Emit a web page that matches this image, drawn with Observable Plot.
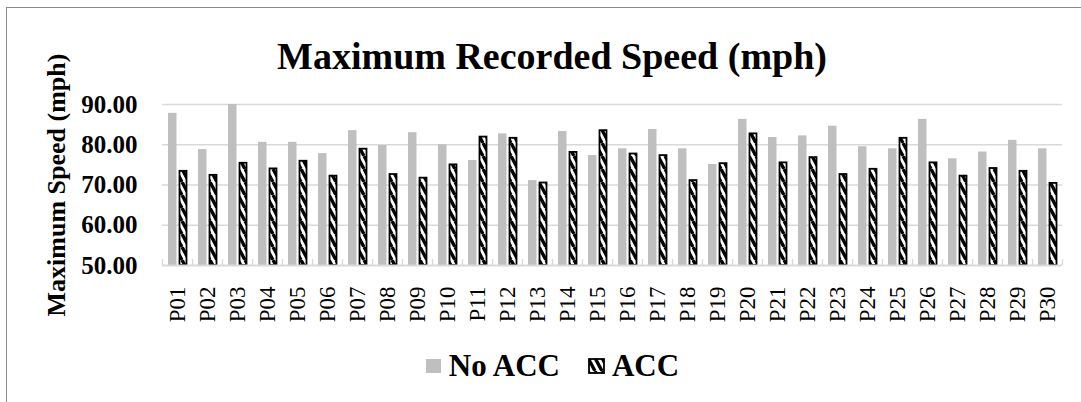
<!DOCTYPE html>
<html>
<head>
<meta charset="utf-8">
<script src="https://cdn.jsdelivr.net/npm/d3@7"></script>
<script src="https://cdn.jsdelivr.net/npm/@observablehq/plot@0.6"></script>
<style>
  html, body { margin: 0; padding: 0; background: #fff; }
  body { width: 1081px; height: 402px; position: relative; overflow: hidden; font-family: "Liberation Serif", "Times New Roman", serif; }
  #frame { position: absolute; left: 6px; top: 7px; width: 1100px; height: 420px; border: 1.5px solid #8a8a8a; box-sizing: border-box; }
  #title { position: absolute; left: 0; top: 37px; width: 1104px; text-align: center; font-weight: bold; font-size: 38px; line-height: 38px; }
  #chart { position: absolute; left: 0; top: 0; }
  #legend { position: absolute; left: 0; top: 350px; width: 1104px; display: flex; justify-content: center; align-items: center; font-weight: bold; font-size: 31px; line-height: 31px; }
  #legend .item { display: flex; align-items: center; margin: 0 14px; }
  #legend svg { margin-right: 7px; }
</style>
</head>
<body>
<svg width="0" height="0" style="position:absolute">
  <defs>
    <pattern id="hatch" patternUnits="userSpaceOnUse" width="7" height="13">
      <rect width="7" height="13" fill="#fff"></rect>
      <path d="M0,0L7,13M-7,0L0,13M7,0L14,13" stroke="#000" stroke-width="3.4"></path>
    </pattern>
  </defs>
</svg>
<div id="frame"></div>
<div id="chart"></div>
<div id="title">Maximum Recorded Speed (mph)</div>
<div id="legend"></div>
<script>
// Participants and their maximum recorded speeds (mph)
const participants = ["P01","P02","P03","P04","P05","P06","P07","P08","P09","P10",
  "P11","P12","P13","P14","P15","P16","P17","P18","P19","P20",
  "P21","P22","P23","P24","P25","P26","P27","P28","P29","P30"];
const noAcc = [87.8, 78.8, 90.0, 80.6, 80.6, 77.8, 83.5, 79.8, 83.0, 80.0,
  76.1, 82.7, 71.1, 83.3, 77.3, 79.0, 83.8, 79.0, 75.1, 86.3,
  81.8, 82.2, 84.6, 79.5, 79.0, 86.3, 76.5, 78.2, 81.1, 79.0];
const acc = [73.4, 72.4, 75.4, 74.0, 75.9, 72.2, 78.9, 72.6, 71.7, 75.0,
  81.9, 81.6, 70.5, 78.1, 83.5, 77.7, 77.3, 71.1, 75.3, 82.7,
  75.5, 76.8, 72.6, 73.9, 81.6, 75.5, 72.2, 74.1, 73.4, 70.4];
const seriesNames = ["No ACC", "ACC"];
const yTicks = [50, 60, 70, 80, 90];
const yTitle = "Maximum Speed (mph)";

const rowsNo = participants.map((p, i) => ({p, v: noAcc[i]}));
const rowsAcc = participants.map((p, i) => ({p, v: acc[i]}));
const base = yTicks[0];
const last = participants[participants.length - 1];

const plot = Plot.plot({
  width: 1081,
  height: 335,
  marginLeft: 162,
  marginRight: 19,
  marginTop: 104,
  marginBottom: 70,
  style: {fontFamily: "'Liberation Serif', 'Times New Roman', serif", fontSize: "23px", color: "#000", background: "transparent"},
  x: {domain: participants, padding: 0},
  y: {domain: [yTicks[0], yTicks[yTicks.length - 1]]},
  marks: [
    // horizontal gridlines
    Plot.ruleY(yTicks.slice(1), {stroke: "#d9d9d9", strokeWidth: 1.4}),
    // grouped bars: solid grey on the left, hatched on the right
    Plot.barY(rowsNo, {x: "p", y1: base, y2: "v", fill: "#bfbfbf", insetLeft: 6, insetRight: 15.5}),
    Plot.barY(rowsAcc, {x: "p", y1: base, y2: "v", fill: "url(#hatch)", stroke: "#000", strokeWidth: 1.8, insetLeft: 17.5, insetRight: 5.5}),
    // category axis line and small separators between participants
    Plot.ruleY([base], {stroke: "#d9d9d9", strokeWidth: 2}),
    Plot.ruleX(participants, {x: d => d, dx: -15, y1: base, y2: base + 1.5, stroke: "#d9d9d9", strokeWidth: 1.4}),
    Plot.ruleX([last], {x: d => d, dx: 15, y1: base, y2: base + 1.5, stroke: "#d9d9d9", strokeWidth: 1.4}),
    Plot.axisY(yTicks, {tickSize: 0, tickPadding: 25, tickFormat: d3.format(".2f"), fontWeight: "bold", fontSize: 25, label: null}),
    Plot.axisX({tickSize: 0, tickPadding: 21, tickRotate: -90, fontSize: 23, label: null}),
    Plot.text([yTitle], {frameAnchor: "left", dx: -106, rotate: -90, fontWeight: "bold", fontSize: 26, textAnchor: "middle", lineAnchor: "middle"})
  ]
});
document.getElementById("chart").appendChild(plot);

// Legend
const legend = d3.select("#legend");
const fills = {"No ACC": {fill: "#bfbfbf", stroke: "none"}, "ACC": {fill: "url(#hatch)", stroke: "#000"}};
seriesNames.forEach(name => {
  const item = legend.append("div").attr("class", "item");
  const sw = item.append("svg").attr("width", 17).attr("height", 16);
  const f = fills[name];
  sw.append("rect").attr("x", 1).attr("y", 1).attr("width", 15).attr("height", 14)
    .attr("fill", f.fill).attr("stroke", f.stroke).attr("stroke-width", 1.8);
  item.append("span").text(name);
});
</script>
</body>
</html>
